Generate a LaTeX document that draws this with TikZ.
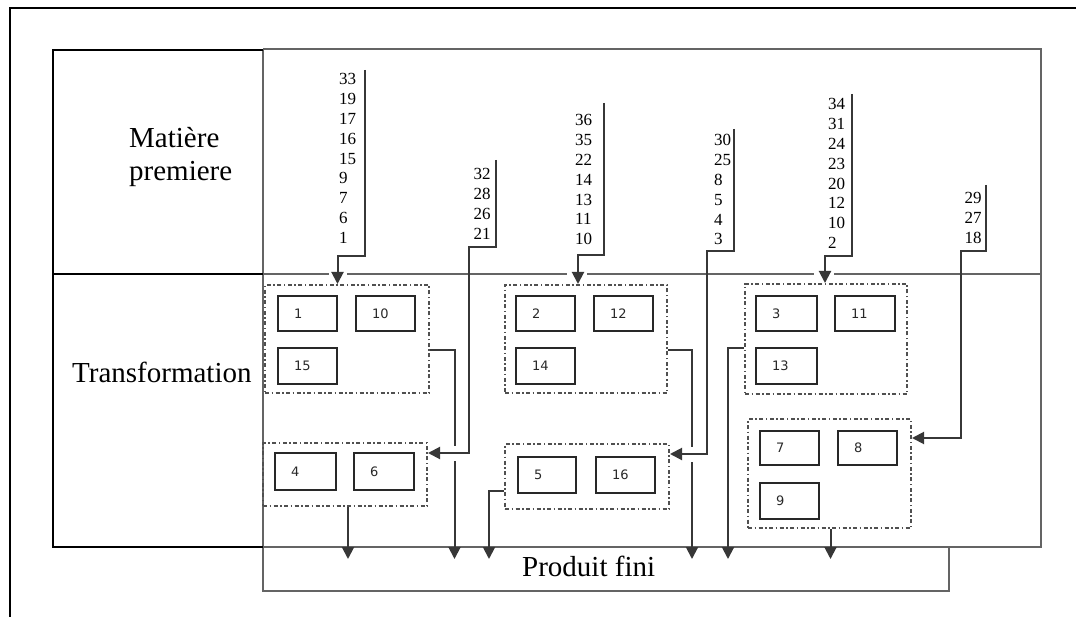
\documentclass[tikz,border=0pt]{standalone}
\usepackage{fontspec}
\setmainfont{Liberation Serif}
\newfontfamily\boxfont{DejaVu Sans}
\usetikzlibrary{arrows.meta}
\definecolor{mgray}{RGB}{100,100,100}
\definecolor{dgray}{RGB}{80,80,80}
\definecolor{bgray}{RGB}{40,40,40}
\definecolor{lgray}{RGB}{55,55,55}
\newcommand\mkbx[6]{%
  \node[bx,minimum width={(#4-#3)*1pt},minimum height={(#6-#5)*1pt}] (#1) at ({(#3+#4)/2},{(#5+#6)/2}) {};
  \node[bxlbl] (#1t) at ({#3+16},{(#5+#6)/2}) {#2};}
\newcommand\mkgrp[5]{%
  \node[grp,minimum width={(#3-#2)*1pt},minimum height={(#5-#4)*1pt}] (#1) at ({(#2+#3)/2},{(#4+#5)/2}) {};}
\newcommand\mkcol[4]{%
  \foreach \t [count=\i] in {#4} {\node[num] (#1-\i) at (#2,{#3+19.8*(\i-1)}) {\t};}}
\begin{document}
\begin{tikzpicture}[x=1pt,y=-1pt,
  frameln/.style={line width=2.4pt,draw=black},
  tblln/.style={line width=2pt,draw=black},
  mainln/.style={line width=2.4pt,draw=mgray},
  grp/.style={draw=dgray,line width=2pt,dash pattern=on 4pt off 2.5pt on 1.5pt off 2.5pt,rectangle,inner sep=0pt},
  bx/.style={draw=bgray,line width=2pt,rectangle,inner sep=0pt},
  bxlbl/.style={font=\boxfont\fontsize{13}{15}\selectfont,text=bgray,anchor=west,inner sep=0pt},
  num/.style={font=\fontsize{17}{19}\selectfont,anchor=base west,inner sep=0pt},
  big/.style={font=\fontsize{29}{33}\selectfont,anchor=base west,inner sep=0pt},
  conn/.style={draw=lgray,line width=2pt,-{Triangle[length=12pt,width=12pt]}},
]
\useasboundingbox (0,0) rectangle (1076,617);
% outer frame
\draw[frameln] (10,617) -- (10,8) -- (1076,8);
% main region
\draw[mainln] (263,49) -- (1041,49) -- (1041,547) -- (263,547);
\draw[mainln] (263,274) -- (1041,274);
\draw[mainln] (263,49) -- (263,591) -- (949,591) -- (949,547);
% left table
\draw[tblln] (263,50) -- (53,50) -- (53,547) -- (263,547);
\draw[tblln] (53,274) -- (263,274);
% labels
\node[big] (mp1) at (129,148) {Matière};
\node[big] (mp2) at (129,181) {premiere};
\node[big] (tr) at (72,383) {Transformation};
\node[big] (pf) at (522,576) {Produit fini};
% number columns
\mkcol{c1}{339}{85}{33,19,17,16,15,9,7,6,1}
\mkcol{c2}{473.5}{180}{32,28,26,21}
\mkcol{c3}{575}{126}{36,35,22,14,13,11,10}
\mkcol{c4}{714}{146}{30,25,8,5,4,3}
\mkcol{c5}{828}{110}{34,31,24,23,20,12,10,2}
\mkcol{c6}{964.5}{204}{29,27,18}
% groups
\mkgrp{g1}{265}{429}{285}{393}
\mkgrp{g2}{263}{427}{443}{506}
\mkgrp{g3}{505}{667}{285}{393}
\mkgrp{g4}{505}{669}{444}{509}
\mkgrp{g5}{745}{907}{284}{394}
\mkgrp{g6}{748}{911}{419}{528}
% boxes
\mkbx{b1}{1}{278}{337}{296}{331}
\mkbx{b10}{10}{356}{415}{296}{331}
\mkbx{b15}{15}{278}{337}{348}{384}
\mkbx{b4}{4}{275}{336}{453}{490}
\mkbx{b6}{6}{354}{414}{453}{490}
\mkbx{b2}{2}{516}{575}{296}{331}
\mkbx{b12}{12}{594}{653}{296}{331}
\mkbx{b14}{14}{516}{575}{348}{384}
\mkbx{b5}{5}{518}{576}{457}{493}
\mkbx{b16}{16}{596}{655}{457}{493}
\mkbx{b3}{3}{756}{817}{296}{331}
\mkbx{b11}{11}{835}{895}{296}{331}
\mkbx{b13}{13}{756}{817}{348}{384}
\mkbx{b7}{7}{760}{819}{431}{465}
\mkbx{b8}{8}{838}{897}{431}{465}
\mkbx{b9}{9}{760}{819}{483}{519}
% outputs to produit fini
\coordinate (o1) at (454.5,350); \coordinate (p1) at (454.5,559);
\coordinate (p2) at (348,559);
\coordinate (o3) at (489,491);   \coordinate (p3) at (489,559);
\coordinate (o4) at (692,350);   \coordinate (p4) at (692,559);
\coordinate (o5) at (728,348);   \coordinate (p5) at (728,559);
\coordinate (p6) at (830.5,559);
\draw[conn] (g1.east |- o1) -- (o1) -- (p1);
\draw[conn] (p2 |- g2.south) -- (p2);
\draw[conn] (g4.west |- o3) -- (o3) -- (p3);
\draw[conn] (g3.east |- o4) -- (o4) -- (p4);
\draw[conn] (g5.west |- o5) -- (o5) -- (p5);
\draw[conn] (p6 |- g6.south) -- (p6);
% gaps
\fill[white] (450,446) rectangle (459,461);
\fill[white] (688,447) rectangle (697,462);
\fill[white] (329,270) rectangle (347,278);
\fill[white] (567,270) rectangle (587,278);
\fill[white] (814,270) rectangle (834,278);
% raw material feeds
\coordinate (c1a) at (365,70);  \coordinate (c1c) at (337.5,256);
\coordinate (c2a) at (496,160); \coordinate (c2c) at (469,247); \coordinate (c2d) at (469,453);
\coordinate (c3a) at (604,103); \coordinate (c3c) at (578,255);
\coordinate (c4a) at (734,129); \coordinate (c4c) at (707,251); \coordinate (c4d) at (707,454);
\coordinate (c5a) at (852,94);  \coordinate (c5c) at (825,256);
\coordinate (c6a) at (986,185); \coordinate (c6c) at (961,251); \coordinate (c6d) at (961,438);
\draw[conn] (c1a) |- (c1c) -- (c1c |- g1.north);
\draw[conn] (c2a) |- (c2c) -- (c2d) -- (c2d -| g2.east);
\draw[conn] (c3a) |- (c3c) -- (c3c |- g3.north);
\draw[conn] (c4a) |- (c4c) -- (c4d) -- (c4d -| g4.east);
\draw[conn] (c5a) |- (c5c) -- (c5c |- g5.north);
\draw[conn] (c6a) |- (c6c) -- (c6d) -- (c6d -| g6.east);
\end{tikzpicture}
\end{document}
